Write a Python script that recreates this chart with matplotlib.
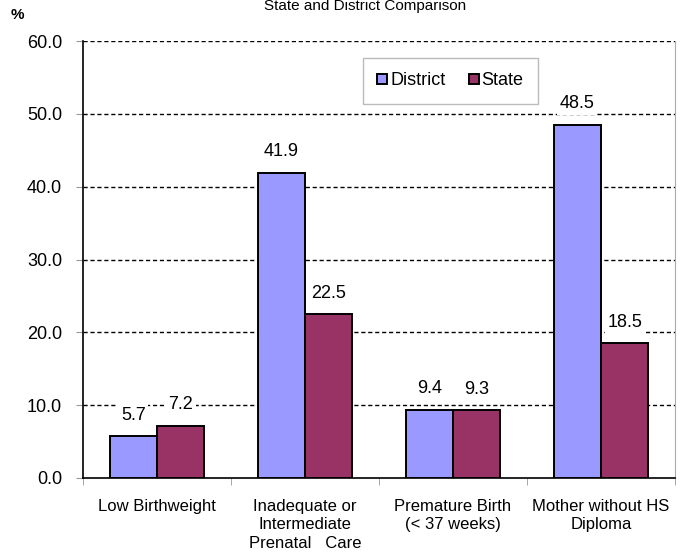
import numpy as np
import matplotlib
matplotlib.use("Agg")
import matplotlib.pyplot as plt

plt.rcParams['font.family'] = ['Liberation Sans', 'DejaVu Sans']

categories = ["Low Birthweight", "Inadequate or\nIntermediate\nPrenatal   Care",
              "Premature Birth\n(< 37 weeks)", "Mother without HS\nDiploma"]
district = [5.7, 41.9, 9.4, 48.5]
state = [7.2, 22.5, 9.3, 18.5]
yticks = [0, 10, 20, 30, 40, 50, 60]

fig = plt.figure(figsize=(6.84, 5.58), dpi=100)
ax = fig.add_axes([83 / 684, 1 - 478 / 558, 592 / 684, 437 / 558])

x = np.arange(len(categories))
w = 0.32
b1 = ax.bar(x - w / 2, district, w, color="#9999FF", edgecolor="black", linewidth=1.4,
            label="District", zorder=3)
b2 = ax.bar(x + w / 2, state, w, color="#993366", edgecolor="black", linewidth=1.4,
            label="State", zorder=3)

for bars in (b1, b2):
    for r in bars:
        ax.annotate(f"{r.get_height():.1f}", (r.get_x() + r.get_width() / 2, r.get_height()),
                    xytext=(0, 15), textcoords="offset points", ha="center", va="center",
                    fontsize=13, zorder=4,
                    bbox=dict(boxstyle="square,pad=0.15", fc="white", ec="none"))

ax.set_xlim(-0.5, len(categories) - 0.5)
ax.set_ylim(0, 60)
ax.set_yticks(yticks)
ax.set_yticklabels([f"{v:.1f}" for v in yticks], fontsize=13)
for v in yticks[1:]:
    ax.axhline(v, color="black", linewidth=1, linestyle=(0, (3, 2)), zorder=1)

ax.set_xticks(x)
ax.set_xticklabels(categories, fontsize=12, linespacing=1.3)
ax.tick_params(axis="x", which="major", length=0, pad=15)
ax.set_xticks(np.arange(len(categories) + 1) - 0.5, minor=True)
ax.tick_params(axis="x", which="minor", length=5, color="#999999", direction="out")
ax.tick_params(axis="y", length=5, color="#999999", direction="out", pad=10)

ax.spines["top"].set_visible(False)
ax.spines["right"].set_color("#aaaaaa")
ax.spines["left"].set_color("black")
ax.spines["bottom"].set_color("black")
ax.spines["left"].set_linewidth(1.2)
ax.spines["bottom"].set_linewidth(1.2)

leg = ax.legend(loc="upper left", bbox_to_anchor=(280 / 592, 1 - 17 / 437), ncol=2,
                fontsize=13, frameon=True, fancybox=False, handlelength=0.55,
                handleheight=0.55, handletextpad=0.15, columnspacing=1.3,
                borderpad=0.8, borderaxespad=0)
leg.get_frame().set_edgecolor("#aaaaaa")
leg.get_frame().set_linewidth(1)

fig.text(365 / 684, 1 - 6 / 558, "State and District Comparison", ha="center", va="center",
         fontsize=11)
fig.text(17 / 684, 1 - 15 / 558, "%", ha="center", va="center", fontsize=11,
         fontweight="bold")

fig.savefig("out.png", dpi=100)
